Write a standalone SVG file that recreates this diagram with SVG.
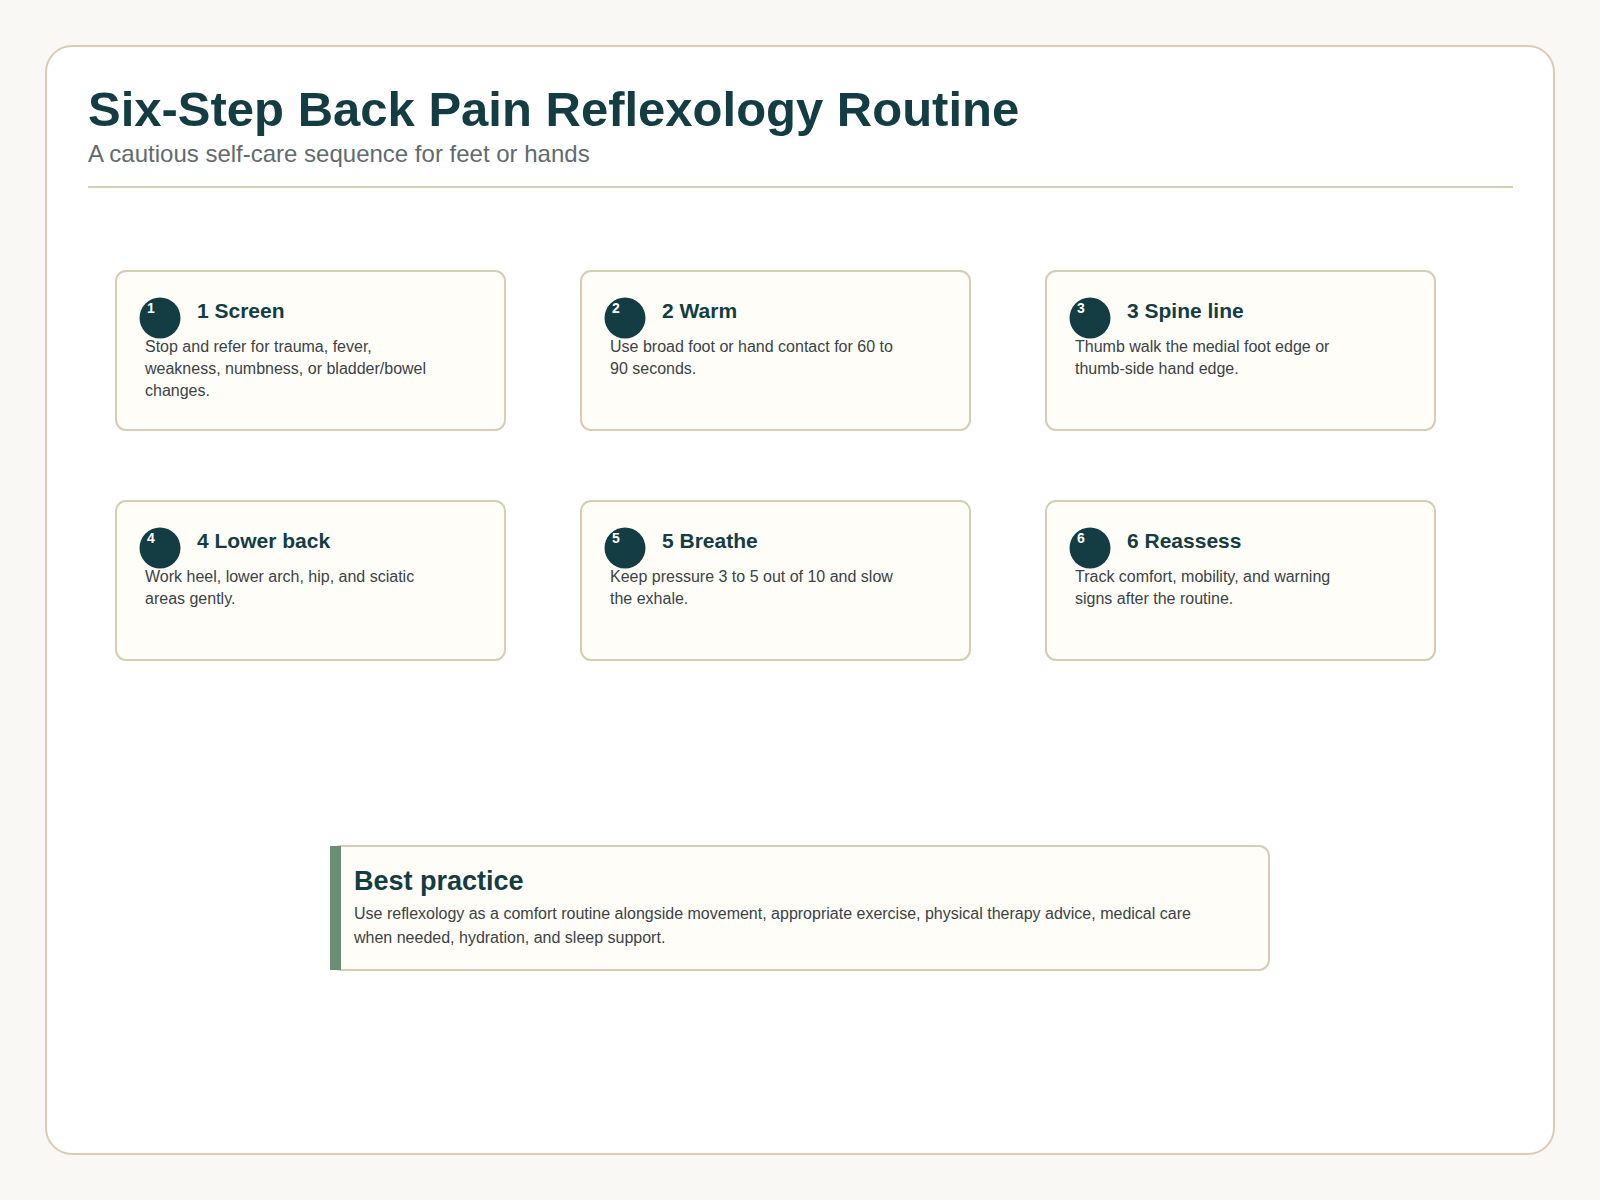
<svg xmlns="http://www.w3.org/2000/svg" width="1600" height="1200" viewBox="0 0 1600 1200">
<style>
text{font-family:"Liberation Sans",Arial,sans-serif}
.card{fill:#fffdf8;stroke:#d8ccb4;stroke-width:2}
.dot{fill:#133d42}
.num{fill:#fff;font-size:14px;font-weight:bold}
.h{fill:#133d42;font-size:21px;font-weight:bold}
.b{fill:#3a4346;font-size:16px}
</style>
<rect width="1600" height="1200" fill="#f9f8f4"/>
<rect x="46" y="46" width="1508" height="1108" rx="26" fill="#fff" stroke="#d8ccb4" stroke-width="2"/>
<text x="88" y="126" font-size="49" font-weight="bold" fill="#133d42">Six-Step Back Pain Reflexology Routine</text>
<text x="88" y="162" font-size="24" fill="#5f6b6e">A cautious self-care sequence for feet or hands</text>
<line x1="88" y1="187" x2="1513" y2="187" stroke="#d8ccb4" stroke-width="2"/>
<g id="step1"><rect class="card" x="116" y="271" width="389" height="159" rx="10"/><circle class="dot" cx="160" cy="318" r="20.5"/><text class="num" x="147" y="313">1</text><text class="h" x="197" y="318">1 Screen</text><text class="b" x="145" y="352">Stop and refer for trauma, fever,</text><text class="b" x="145" y="374">weakness, numbness, or bladder/bowel</text><text class="b" x="145" y="396">changes.</text></g>
<g id="step2"><rect class="card" x="581" y="271" width="389" height="159" rx="10"/><circle class="dot" cx="625" cy="318" r="20.5"/><text class="num" x="612" y="313">2</text><text class="h" x="662" y="318">2 Warm</text><text class="b" x="610" y="352">Use broad foot or hand contact for 60 to</text><text class="b" x="610" y="374">90 seconds.</text></g>
<g id="step3"><rect class="card" x="1046" y="271" width="389" height="159" rx="10"/><circle class="dot" cx="1090" cy="318" r="20.5"/><text class="num" x="1077" y="313">3</text><text class="h" x="1127" y="318">3 Spine line</text><text class="b" x="1075" y="352">Thumb walk the medial foot edge or</text><text class="b" x="1075" y="374">thumb-side hand edge.</text></g>
<g id="step4"><rect class="card" x="116" y="501" width="389" height="159" rx="10"/><circle class="dot" cx="160" cy="548" r="20.5"/><text class="num" x="147" y="543">4</text><text class="h" x="197" y="548">4 Lower back</text><text class="b" x="145" y="582">Work heel, lower arch, hip, and sciatic</text><text class="b" x="145" y="604">areas gently.</text></g>
<g id="step5"><rect class="card" x="581" y="501" width="389" height="159" rx="10"/><circle class="dot" cx="625" cy="548" r="20.5"/><text class="num" x="612" y="543">5</text><text class="h" x="662" y="548">5 Breathe</text><text class="b" x="610" y="582">Keep pressure 3 to 5 out of 10 and slow</text><text class="b" x="610" y="604">the exhale.</text></g>
<g id="step6"><rect class="card" x="1046" y="501" width="389" height="159" rx="10"/><circle class="dot" cx="1090" cy="548" r="20.5"/><text class="num" x="1077" y="543">6</text><text class="h" x="1127" y="548">6 Reassess</text><text class="b" x="1075" y="582">Track comfort, mobility, and warning</text><text class="b" x="1075" y="604">signs after the routine.</text></g>
<g id="connectors"></g>
<g id="best-practice"><rect class="card" x="331" y="846" width="938" height="124" rx="10"/><rect x="330" y="846" width="11" height="124" fill="#6a8f74"/><text x="354" y="890" font-size="27" font-weight="bold" fill="#133d42">Best practice</text><text class="b" x="354" y="919">Use reflexology as a comfort routine alongside movement, appropriate exercise, physical therapy advice, medical care</text><text class="b" x="354" y="943">when needed, hydration, and sleep support.</text></g>
</svg>
